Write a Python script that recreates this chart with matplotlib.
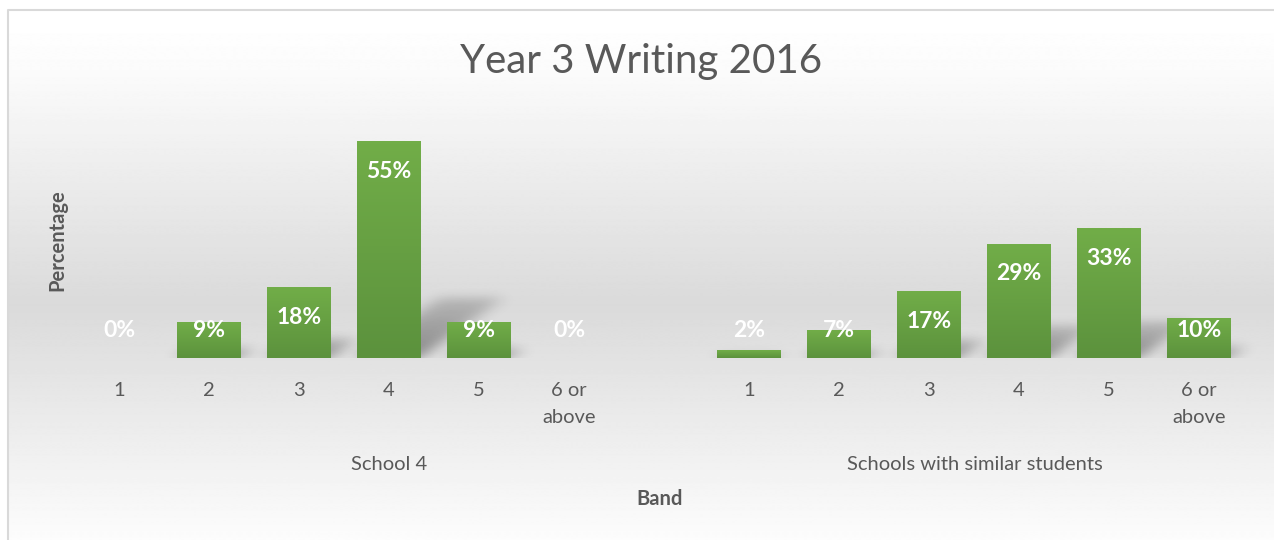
import numpy as np
import matplotlib
matplotlib.use("Agg")
import matplotlib.pyplot as plt
from matplotlib.colors import LinearSegmentedColormap

plt.rcParams['font.family'] = ['Lato', 'DejaVu Sans']

# data
bands = ['1', '2', '3', '4', '5', '6 or\nabove']
groups = ['School 4', 'Schools with similar students']
school = [0, 9, 18, 55, 9, 0]
similar = [2, 7, 17, 29, 33, 10]

TEXT = '#595959'
W, H = 1274, 540


def fx(px):
    return px / W


def fy(py):
    return 1 - py / H


fig = plt.figure(figsize=(W / 100, H / 100), dpi=100)

# chart area background: white -> light grey -> white
bg = fig.add_axes([0, 0, 1, 1], zorder=0)
bg.set_xlim(0, W)
bg.set_ylim(H, 0)
bg.axis('off')
rows = np.arange(H)
grey = np.interp(rows, [10, 60, 300, 540], [1.0, 0.985, 0.855, 0.99])
grad = np.repeat(grey[:, None], 2, axis=1)
bg.imshow(grad, cmap='gray', vmin=0, vmax=1, aspect='auto',
          extent=[8, W + 5, H, 10], interpolation='bilinear')
bg.plot([8, 8, W + 5], [H + 5, 10, 10], color='#d9d9d9', lw=1.5)

# plot area
x_left, x_right = -1.0, 13.0
y_top = 60.0
ax = fig.add_axes([fx(29), fy(358), fx(90 * (x_right - x_left)), fy(358 - y_top * 3.93) - fy(358)],
                  zorder=1)
ax.patch.set_alpha(0)
ax.set_xlim(x_left, x_right)
ax.set_ylim(0, y_top)
for s in ax.spines.values():
    s.set_visible(False)
ax.set_yticks([])

values = school + similar
pos = list(range(6)) + list(range(7, 13))
labels = bands + bands
bw = 0.71

# soft perspective shadows behind the bars
nx, ny = 1400, 120
gx = np.linspace(x_left, x_right, nx)
gy = np.linspace(-3, 27, ny)
XX, YY = np.meshgrid(gx, gy)
mask = np.zeros_like(XX)
for p, v in zip(pos, values):
    hs = 0.28 * v
    k = 0.06
    inside = (YY >= 0) & (YY <= hs) & (XX >= p - bw / 2 + k * YY) & (XX <= p + bw / 2 + k * YY)
    mask = np.maximum(mask, inside * (1 - 0.6 * YY / max(hs, 1e-6)))
sig = 9.0
kern = np.exp(-0.5 * (np.arange(-27, 28) / sig) ** 2)
kern /= kern.sum()
mask = np.apply_along_axis(lambda r: np.convolve(r, kern, mode='same'), 1, mask)
sig_y = 5.0
kern_y = np.exp(-0.5 * (np.arange(-15, 16) / sig_y) ** 2)
kern_y /= kern_y.sum()
mask = np.apply_along_axis(lambda c: np.convolve(c, kern_y, mode='same'), 0, mask)
rgba = np.zeros((ny, nx, 4))
rgba[..., 3] = np.clip(mask * 0.4, 0, 1)
ax.imshow(rgba, extent=[x_left, x_right, -3, 27], origin='lower', aspect='auto',
          zorder=1, interpolation='bilinear')

# bars with a vertical green gradient
green = LinearSegmentedColormap.from_list('g', ['#5c923d', '#71ad48'])
col = np.linspace(0, 1, 64)[:, None]
for p, v in zip(pos, values):
    if v > 0:
        ax.imshow(col, cmap=green, origin='lower', aspect='auto',
                  extent=[p - bw / 2, p + bw / 2, 0, v], zorder=2)
    ax.text(p, max(v - 7.6, 7.1), f'{v}%', color='white', fontsize=16.5,
            fontweight='bold', ha='center', va='center', zorder=3)
ax.set_xlim(x_left, x_right)
ax.set_ylim(0, y_top)

ax.set_xticks(pos)
ax.set_xticklabels(labels, color=TEXT, fontsize=14.5, linespacing=1.75, va='top')
ax.tick_params(axis='x', length=0, pad=17)

# group labels (first group spans seven slots)
fig.text(fx(389), fy(465), groups[0], color=TEXT, fontsize=14.5, ha='center', va='center')
fig.text(fx(975), fy(465), groups[1], color=TEXT, fontsize=14.5, ha='center', va='center')

fig.text(fx(660), fy(499), 'Band', color=TEXT, fontsize=14.5, fontweight='bold',
         ha='center', va='center')
fig.text(fx(57), fy(240), 'Percentage', color=TEXT, fontsize=14.5, fontweight='bold',
         ha='center', va='center', rotation=90)
fig.text(fx(641), fy(62), 'Year 3 Writing 2016', color=TEXT, fontsize=29,
         fontweight='normal', ha='center', va='center')

fig.savefig('out.png', dpi=100)
